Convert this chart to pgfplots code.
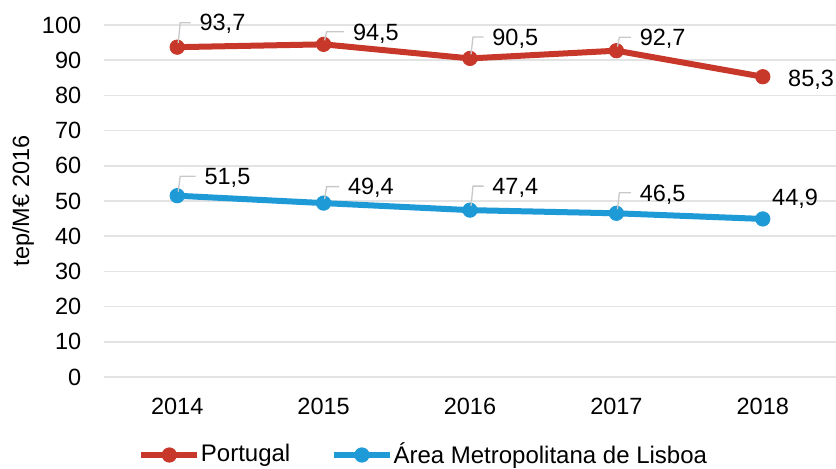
\documentclass[border=0pt]{standalone}
\usepackage{fontspec}
\setmainfont{Liberation Sans}
\usepackage{pgfplots}
\usepackage{pgfplotstable}
\pgfplotsset{compat=1.18}
\usetikzlibrary{calc}
\definecolor{cred}{HTML}{C8382A}
\definecolor{cblue}{HTML}{1E9AD6}
\definecolor{cgrid}{HTML}{E3E3E3}
\definecolor{clead}{HTML}{C8C8C8}

\pgfplotstableread{
x y dx dy L
0 93.7 11 12.25 1
1 94.5 14.5 6.25 1
2 90.5 11 10.75 1
3 92.7 11.5 6.75 1
4 85.3 12.5 -1 0
}\portugal

\pgfplotstableread{
x y dx dy L
0 51.5 13.5 9.75 1
1 49.4 12 8.25 1
2 47.4 11 12 1
3 46.5 11.5 10.25 1
4 44.9 4.5 10.75 0
}\lisboa

\newdimen\ldx
\newdimen\ldy
\pgfplotsset{
  labstyle/.style={
    visualization depends on={\thisrow{dx} \as \dx},
    visualization depends on={\thisrow{dy} \as \dy},
    visualization depends on={\thisrow{L} \as \lead},
    point meta=y,
    nodes near coords={\pgfmathprintnumber[assume math mode=true,use comma,fixed,fixed zerofill,precision=1]{\pgfplotspointmeta}},
    every node near coord/.append style={text=black, anchor=west, inner sep=0pt, text depth=0pt,
      font=\fontsize{11.75}{14}\selectfont,
      xshift=\dx*1pt, yshift=\dy*1pt,
      append after command={\pgfextra{\pgfkeys{/pgf/fpu=false}\ifdim\lead pt>0.5pt
        \ldx=\dx pt \ldy=\dy pt
        \draw[clead, line width=0.65pt]
          ($(\tikzlastnode.west)+(-4.25pt,0pt)$) --
          ($(\tikzlastnode.west)+(1.5pt-\ldx,0pt)$) --
          ($(\tikzlastnode.west)+(0.5pt-\ldx,2pt-\ldy)$);
        \fi}}
    },
  }
}

\begin{document}
\fontsize{11.75}{14}\selectfont
\begin{tikzpicture}
\begin{axis}[
  at={(0,0)}, anchor=south west,
  scale only axis, width=366pt, height=176pt,
  xmin=-0.5, xmax=4.5, ymin=0, ymax=100,
  ytick={0,10,...,100},
  xtick={0,1,2,3,4}, xticklabels={2014,2015,2016,2017,2018},
  axis line style={draw=none},
  major tick length=0pt,
  tick style={draw=none},
  ymajorgrids, grid style={cgrid, line width=0.75pt},
  tick label style={font=\fontsize{11.75}{14}\selectfont},
  yticklabel style={xshift=-7.3pt},
  xticklabel style={yshift=-6.3pt},
  /pgf/number format/assume math mode=true,
  ylabel={tep/M€ 2016},
  ylabel style={at={(axis description cs:-0.1107,0.5)}, anchor=center, font=\fontsize{11.75}{14}\selectfont},
  clip=false,
  legend style={at={(axis description cs:0.4358,-0.2216)}, anchor=center,
    draw=none, fill=none, inner sep=0pt,
    font=\fontsize{12}{14}\selectfont,
    /tikz/every even column/.append style={column sep=20pt},
    nodes={inner sep=0.3pt}},
  legend columns=2,
  legend image code/.code={\draw[mark repeat=2,mark phase=2,#1] plot coordinates {(0pt,0pt) (14pt,0pt) (28pt,0pt)};},
]
\addplot[cred, line width=3pt, mark=*, mark size=3.6pt, mark options={solid, line width=0.4pt}, labstyle, forget plot]
  table[x=x,y=y] {\portugal};
\addplot[cblue, line width=3pt, mark=*, mark size=3.6pt, mark options={solid, line width=0.4pt}, labstyle, forget plot]
  table[x=x,y=y] {\lisboa};
\addlegendimage{cred, line width=3pt, mark=*, mark size=3.6pt, mark options={solid, line width=0.4pt}}
\addlegendentry{Portugal}
\addlegendimage{cblue, line width=3pt, mark=*, mark size=3.6pt, mark options={solid, line width=0.4pt}}
\addlegendentry{Área Metropolitana de Lisboa}
\end{axis}
\pgfresetboundingbox
\path[use as bounding box] (-52pt,-46pt) rectangle (366pt,188.5pt);
\end{tikzpicture}
\end{document}
